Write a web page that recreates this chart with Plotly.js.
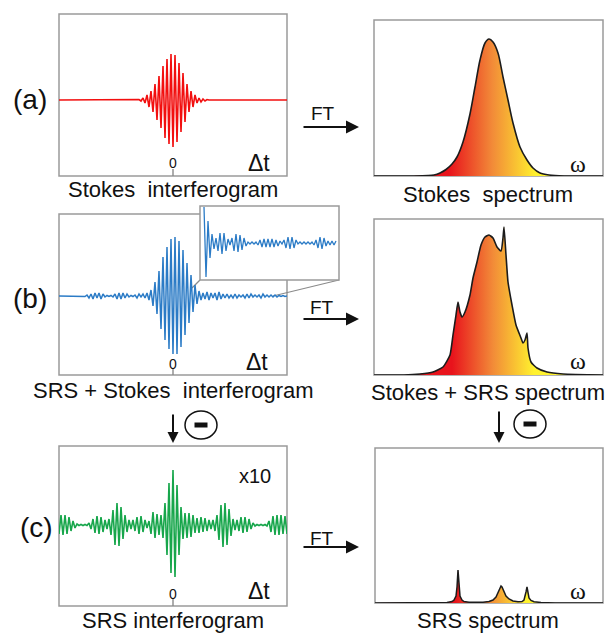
<!DOCTYPE html>
<html><head><meta charset="utf-8">
<script src="https://cdn.plot.ly/plotly-3.0.1.min.js"></script>
<style>html,body{margin:0;padding:0;background:#fff;}#chart{width:607px;height:635px;}</style>
</head><body><div id="chart"></div>
<script>
// ---------------- data ----------------
// Interferogram fringe samples (signed), delay grid from -114 to 114 in steps of 2
const delayStart = -114;
const delayStep = 2;
const stokesFringes = [
 0,0,0,0,0,0,0,0,0,0, 0,0,0,0,0,0,0,0,0,0, 0,0,0,0,0,0,0,0,0,0, 0,0,0,0,0,0,0,0,0,0,
 0.5,-1,2,-3,5,-7,9,-12,16,-20, 24,-28,34,-38,41,-44,46,-47,45,-42,
 37,-32,27,-22,16,-12,9,-7,5,-3, 2,-2,1,-1,0.5,
 0,0,0,0,0,0,0,0,0,0, 0,0,0,0,0,0,0,0,0,0, 0,0,0,0,0,0,0,0,0,0, 0,0,0,0,0,0,0,0,0,0
];
const srsStokesFringes = [
 0,0,0,0,0,0,0,0,0,0,
 0,0,0,-0.5,1,-2,2,-3,3,-2,
 3,-3,2,-1,0.5,-0.5,0.5,-1,2,-3,
 3,-3,3,-2,2,-1,0.5,-0.5,1,-2,
 2,-1,2,-2,3,-4,6,-10,14,-18,
 25,-33,39,-44,49,-53,57,-58,59,-58,
 55,-51,46,-39,33,-27,21,-16,11,-8,
 5,-4,3,-3,4,-4,3,-2,3,-4,
 4,-3,2,-2,2,-2,1,-2,2,-2,
 1,-1,1,-2,2,-2,2,-1,1,-1,
 1,-2,2,-1,1,-1,1,-1,1,-1,
 0.5,-0.5,0.5,-0.5,0
];
const srsFringes = [
 -9,10,-10,10,-9,8,-6,4,-3,1,
 -0.5,0.5,-0.5,0.5,-0.5,2,-4,6,-8,9,
 -9,8,-7,5,-4,6,-10,15,-20,22,
 -21,18,-14,10,-7,5,-4,5,-6,8,
 -9,9,-7,5,-3,4,-9,13,-13,11,
 -10,10,-13,22,-30,42,-48,55,-52,40,
 -30,18,-14,12,-13,12,-12,10,-8,7,
 -8,8,-7,7,-6,5,-4,5,-6,10,
 -15,20,-22,22,-20,16,-11,6,-5,5,
 -6,8,-8,8,-7,6,-4,2,-1,0.5,
 -0.5,0.5,-0.5,0.5,-1,4,-7,9,-10,10,
 -10,10,-9,9,-9
];
// Inset (magnified tail of the SRS + Stokes interferogram), grid 4..136 step 2
const insetStart = 4;
const insetFringes = [
 36,-34,22,-15,9,-6,5,-8,10,-11, 10,-8,4,-2,5,-8,9,-9,8,-7,
 5,-3,1,-1,1,-1,1,-2,3,-4, 4,-4,4,-4,4,-4,3,-3,2,-1,
 3,-5,6,-6,6,-5,3,-1,1,-1, 1,-1,1,-1,1,-2,3,-5,6,-6,
 5,-3,2,-2,2,-2,2
];
// Spectra (frequency offset, intensity)
const stokesOmega     = [0, 40, 54, 60, 66, 72, 78, 83, 89, 96, 101, 106, 111, 115, 119, 124, 129, 134, 139, 146, 153, 159, 166, 175, 190, 229];
const stokesIntensity = [0, 0, 0.4, 1, 3, 6.5, 12, 19, 34, 62, 89, 116, 133, 137, 134, 123, 99, 76, 53, 29, 16, 8, 3, 1, 0, 0];
const mixOmega     = [0, 30, 46, 59, 69, 76, 79, 82, 84, 86, 88, 91, 96, 99, 103, 107, 111, 115, 119, 123, 127, 129, 130, 132, 134, 138, 142, 147, 149, 151, 153, 154, 157, 163, 173, 189, 229];
const mixIntensity = [0, 0, 1, 3, 8, 20, 40, 60, 73, 63, 58, 63, 80, 97, 113, 130, 138, 140, 137, 128, 124, 137, 148, 120, 93, 70, 50, 37, 32, 35, 42, 27, 13, 7, 3, 1, 0];
const srsOmega     = [0, 60, 72, 77, 79, 81, 82, 83, 84, 85, 87, 89, 94, 100, 108, 114, 118, 121, 123, 125, 126, 127, 129, 131, 134, 138, 143, 147, 149, 150, 151, 152, 153, 154, 156, 159, 166, 180, 228];
const srsIntensity = [0, 0, 0.5, 1.5, 3, 7, 16, 33, 16, 7, 3, 1.5, 0.8, 0.6, 0.8, 1.5, 3, 6, 11, 15.5, 17, 16, 12, 7, 4, 2, 1.2, 1.5, 3, 6, 11, 16, 10, 5, 2.5, 1.2, 0.5, 0, 0];

// ---------------- helpers ----------------
const W = 607, H = 635;
const X = p => p / W;
const Y = p => 1 - p / H;
function grid(start, step, n){ const g=[]; for(let i=0;i<n;i++) g.push(start+i*step); return g; }
const FONT = 'Liberation Sans, Arial, Helvetica, sans-serif';
const SERIF = 'Liberation Serif, Times New Roman, serif';
const gradScale = [[0,'#e8131c'],[0.5,'#f28b38'],[1,'#fff22e']];

function axis(domain, range, anchor){
  return {domain, range, anchor, showgrid:false, zeroline:false, showticklabels:false,
          ticks:'', showline:false, fixedrange:true};
}

const traces = [
  {x: grid(delayStart, delayStep, stokesFringes.length), y: stokesFringes, xaxis:'x', yaxis:'y',
   mode:'lines', line:{color:'#f20f0f', width:1.6}, hoverinfo:'skip'},
  {x: stokesOmega, y: stokesIntensity, xaxis:'x2', yaxis:'y2', mode:'lines', fill:'tozeroy',
   fillgradient:{type:'horizontal', start:75, stop:162, colorscale:gradScale},
   line:{color:'#1c1c1c', width:1.6, shape:'spline', smoothing:0.8}, hoverinfo:'skip'},
  {x: grid(delayStart, delayStep, srsStokesFringes.length), y: srsStokesFringes, xaxis:'x3', yaxis:'y3',
   mode:'lines', line:{color:'#2b7bc6', width:1.5}, hoverinfo:'skip'},
  {x: mixOmega, y: mixIntensity, xaxis:'x4', yaxis:'y4', mode:'lines', fill:'tozeroy',
   fillgradient:{type:'horizontal', start:78, stop:160, colorscale:gradScale},
   line:{color:'#1c1c1c', width:1.6, shape:'spline', smoothing:0.5}, hoverinfo:'skip'},
  {x: grid(delayStart, delayStep, srsFringes.length), y: srsFringes, xaxis:'x5', yaxis:'y5',
   mode:'lines', line:{color:'#17a64b', width:1.6}, hoverinfo:'skip'},
  {x: srsOmega, y: srsIntensity, xaxis:'x6', yaxis:'y6', mode:'lines', fill:'tozeroy',
   fillgradient:{type:'horizontal', start:80, stop:150, colorscale:gradScale},
   line:{color:'#1c1c1c', width:1.5}, hoverinfo:'skip'},
  {x: grid(insetStart, 2, insetFringes.length), y: insetFringes, xaxis:'x7', yaxis:'y7',
   mode:'lines', line:{color:'#2b7bc6', width:1.3}, hoverinfo:'skip'}
];

const FR = '#9a9a9a';
function rect(x0,y0,x1,y1,extra){
  return Object.assign({type:'rect', xref:'paper', yref:'paper', x0:X(x0), x1:X(x1), y0:Y(y1), y1:Y(y0),
    line:{color:FR, width:1.5}, fillcolor:'rgba(0,0,0,0)', layer:'below'}, extra||{});
}
function seg(x0,y0,x1,y1,color,w){
  return {type:'line', xref:'paper', yref:'paper', x0:X(x0), y0:Y(y0), x1:X(x1), y1:Y(y1),
    line:{color:color, width:w}, layer:'below'};
}
const shapes = [
  rect(59,14,287,176), rect(374,20,603,176),
  rect(59,214,287,375), rect(374,219,603,375),
  rect(59,446,287,606), rect(375,448,603,603),
  seg(173,169,173,176,'#8a8a8a',1.4), seg(173,369,173,375,'#8a8a8a',1.4), seg(173,599,173,606,'#8a8a8a',1.4),
  seg(200,280,192,288,'#8a8a8a',1.2), seg(339,280,273,296,'#8a8a8a',1.2),
  rect(200,206,339,280,{fillcolor:'#ffffff'}),
  {type:'circle', xref:'paper', yref:'paper', x0:X(185), x1:X(217), y0:Y(439), y1:Y(411), line:{color:'#111', width:1.5}},
  {type:'circle', xref:'paper', yref:'paper', x0:X(514), x1:X(546), y0:Y(438), y1:Y(410), line:{color:'#111', width:1.5}},
  {type:'rect', xref:'paper', yref:'paper', x0:X(194.5), x1:X(207.5), y0:Y(427.5), y1:Y(422.5), fillcolor:'#111', line:{width:0}},
  {type:'rect', xref:'paper', yref:'paper', x0:X(523.5), x1:X(536.5), y0:Y(426.5), y1:Y(421.5), fillcolor:'#111', line:{width:0}}
];

function txt(t,x,y,size,extra){
  return Object.assign({text:t, x:X(x), y:Y(y), xref:'paper', yref:'paper', showarrow:false,
    xanchor:'center', yanchor:'middle', font:{family:FONT, size:size, color:'#111'}}, extra||{});
}
function arrow(xh,yh,axp,ayp,size){
  return {text:'', x:X(xh), y:Y(yh), xref:'paper', yref:'paper', showarrow:true, ax:axp, ay:ayp,
    arrowhead:2, arrowsize:size, arrowwidth:2, arrowcolor:'#111', standoff:0, startstandoff:0};
}
const NB = '\u00A0';
const omegaFont = {family:SERIF, size:24, color:'#111'};
const annotations = [
  txt('(a)',30,100,28), txt('(b)',30,298,28), txt('(c)',36,527,28),
  txt('Stokes'+NB+' interferogram',173,189,22),
  txt('Stokes'+NB+' spectrum',488,194,22),
  txt('SRS + Stokes'+NB+' interferogram',173,390,22),
  txt('Stokes + SRS spectrum',488,392,22),
  txt('SRS interferogram',173,620,22),
  txt('SRS spectrum',488,620,22),
  txt('FT',323,113,19), txt('FT',322,308,19), txt('FT',322,538,19),
  txt('\u0394t',259,163,23), txt('\u0394t',257,362,23), txt('\u0394t',259,591,23),
  txt('0',173,163,14), txt('0',173,364,14), txt('0',173,594,14),
  txt('\u03C9',578,164,24,{font:omegaFont}),
  txt('\u03C9',578,361,24,{font:omegaFont}),
  txt('\u03C9',578,591,24,{font:omegaFont}),
  txt('x10',255,476,20),
  arrow(359,127,-57,0,1.3), arrow(359,319,-57,0,1.3), arrow(359,547,-57,0,1.3),
  arrow(173,443,0,-30,1.1), arrow(499,443,0,-33,1.1)
];

const layout = {
  width:W, height:H, margin:{l:0,r:0,t:0,b:0}, paper_bgcolor:'#ffffff', plot_bgcolor:'rgba(0,0,0,0)',
  showlegend:false,
  xaxis:  axis([X(59),X(287)], [-114,114], 'y'),
  yaxis:  axis([Y(176),Y(14)], [-76,86], 'x'),
  xaxis2: axis([X(374),X(603)], [0,229], 'y2'),
  yaxis2: axis([Y(176),Y(20)], [0,156], 'x2'),
  xaxis3: axis([X(59),X(287)], [-114,114], 'y3'),
  yaxis3: axis([Y(375),Y(214)], [-79,82], 'x3'),
  xaxis4: axis([X(374),X(603)], [0,229], 'y4'),
  yaxis4: axis([Y(375),Y(219)], [0,156], 'x4'),
  xaxis5: axis([X(59),X(287)], [-114,114], 'y5'),
  yaxis5: axis([Y(606),Y(446)], [-81,79], 'x5'),
  xaxis6: axis([X(375),X(603)], [0,228], 'y6'),
  yaxis6: axis([Y(603),Y(448)], [0,155], 'x6'),
  xaxis7: axis([X(200),X(339)], [0,139], 'y7'),
  yaxis7: axis([Y(280),Y(206)], [-37,37], 'x7'),
  shapes, annotations
};
Plotly.newPlot('chart', traces, layout, {displayModeBar:false, staticPlot:true});
</script>
</body></html>
